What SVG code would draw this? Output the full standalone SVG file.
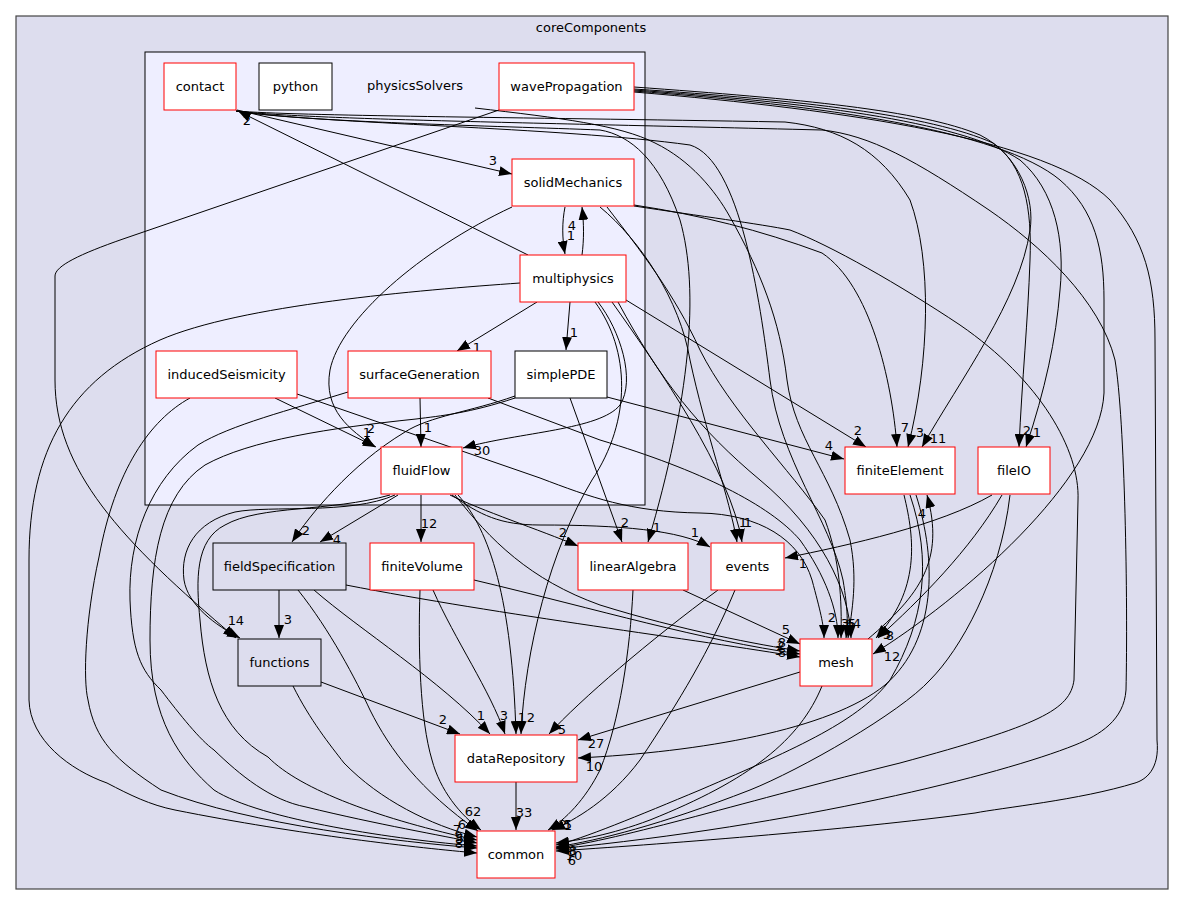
<svg xmlns="http://www.w3.org/2000/svg" width="1184" height="905" viewBox="0 0 1184 905">
<defs>
<style>
text{font-family:"DejaVu Sans","Liberation Sans",sans-serif;font-size:13px;fill:#000;text-anchor:middle}
.e{fill:none;stroke:#000;stroke-width:1;marker-end:url(#ah)}
.r{fill:#fff;stroke:#ff0000;stroke-width:1}
.b{fill:#fff;stroke:#000;stroke-width:1}
.g{fill:#ddddee;stroke:#000;stroke-width:1}
</style>
<marker id="ah" markerUnits="userSpaceOnUse" markerWidth="13" markerHeight="10" refX="13" refY="5" orient="auto">
<path d="M0,0 L13,5 L0,10 z" fill="#000"/>
</marker>
</defs>
<rect width="1184" height="905" fill="#fff"/>
<g id="cluster_coreComponents">
<rect x="16" y="16" width="1152" height="873" fill="#ddddee" stroke="#444" stroke-width="1.2"/>
<text x="591" y="32">coreComponents</text>
</g>
<g id="cluster_physicsSolvers">
<rect x="145" y="52" width="500" height="453" fill="#eeeeff" stroke="#000" stroke-width="1"/>
<text x="415" y="90">physicsSolvers</text>
</g>
<g id="connectors">
<path class="e" d="M237,110 L512,174"/>
<path class="e" d="M528,255 L238,111"/>
<path class="e" d="M565,207 C562,222 562,238 565,254"/>
<path class="e" d="M582,255 C584,240 584,224 582,207"/>
<path class="e" d="M537,302 L457,351"/>
<path class="e" d="M570,302 L566,350"/>
<path class="e" d="M598,302 C620,330 636,380 620,405 C600,430 520,432 463,448"/>
<path class="e" d="M520,283 C420,290 240,305 160,340 C70,380 29,450 29,560 L29,700 C30,740 70,770 107,783 C130,795 150,805 175,810 C300,835 420,848 477,853"/>
<path class="e" d="M626,300 L866,447"/>
<path class="e" d="M612,302 C660,370 730,470 742,542"/>
<path class="e" d="M618,302 C660,380 700,430 760,480 C820,530 850,590 851,638"/>
<path class="e" d="M595,302 C630,350 632,420 592,480 C550,550 525,650 521,734"/>
<path class="e" d="M512,207 C420,250 340,320 330,370 C323,410 350,430 375,447"/>
<path class="e" d="M600,207 C640,240 680,300 690,360 C705,430 730,500 737,542"/>
<path class="e" d="M607,207 C640,250 674,293 700,350 C730,410 790,470 825,520 C840,560 842,600 841,638"/>
<path class="e" d="M634,205 C700,215 760,230 822,253 C870,285 892,380 897,447"/>
<path class="e" d="M634,206 C700,216 760,224 790,230 C830,245 900,285 960,325 C1040,380 1080,450 1078,500 L1074,680 C1070,710 1040,725 900,763 C750,800 620,840 556,848"/>
<path class="e" d="M236,111 C300,116 500,117 785,122 C840,128 880,150 910,200 C932,260 930,360 908,447"/>
<path class="e" d="M236,111 C300,119 500,122 822,130 C870,135 915,160 989,210 C1040,245 1100,300 1115,360 C1125,420 1128,600 1126,690 C1124,720 1100,735 1075,745 C1000,775 800,825 556,849"/>
<path class="e" d="M236,111 C300,122 500,126 600,130 C630,135 660,160 680,220 C700,290 690,400 648,542"/>
<path class="e" d="M236,111 C320,124 560,127 690,145 C740,160 760,300 770,380 C780,460 830,520 843,580 C848,610 848,625 846,638"/>
<path class="e" d="M475,108 C560,118 620,125 655,143 C690,160 715,190 730,217 C760,270 780,320 787,380 C795,440 830,470 850,540 C858,580 852,610 848,638"/>
<path class="e" d="M499,110 L123,239 C80,254 55,266 55,276 L55,380 C55,470 120,540 236,638"/>
<path class="e" d="M634,87 C800,99 920,110 980,135 C1020,155 1035,200 1030,230 C1020,300 960,380 922,447"/>
<path class="e" d="M634,89 C800,100 930,115 993,143 C1025,165 1032,210 1030,260 C1028,320 1022,380 1019,447"/>
<path class="e" d="M634,90 C800,102 960,120 1020,160 C1055,190 1065,240 1060,290 C1056,340 1045,390 1026,447"/>
<path class="e" d="M634,91 C820,105 1000,130 1060,180 C1095,210 1104,250 1104,300 L1104,393 C1100,480 960,600 873,654"/>
<path class="e" d="M634,92 C850,110 1050,140 1110,200 C1145,240 1155,280 1155,340 L1157,740 C1160,770 1145,780 1135,783 C1080,800 1000,808 975,813 C850,830 650,845 556,851"/>
<path class="e" d="M607,397 L844,459"/>
<path class="e" d="M570,398 L622,542"/>
<path class="e" d="M515,396 C470,412 430,416 405,432 C350,465 310,515 292,542"/>
<path class="e" d="M515,398 C470,413 440,416 416,419 C330,428 250,440 205,465 C160,495 150,560 150,640 C150,720 180,760 214,790 C260,820 400,840 477,846"/>
<path class="e" d="M275,398 L376,447"/>
<path class="e" d="M297,394 L540,478 C590,497 630,512 700,513 C760,514 800,540 812,580 C820,610 824,625 824,638"/>
<path class="e" d="M190,398 C150,420 115,470 99,557 C85,620 83,680 88,700 C95,740 115,760 161,790 C250,825 400,842 477,848"/>
<path class="e" d="M420,398 L421,447"/>
<path class="e" d="M488,398 L600,440 C700,470 770,505 800,540 C825,575 838,610 838,638"/>
<path class="e" d="M348,392 C290,410 230,425 198,445 C150,480 128,540 130,600 C132,650 140,670 161,690 C180,715 200,740 214,750 C240,775 270,800 306,807 C380,825 440,835 477,843"/>
<path class="e" d="M398,495 L320,542"/>
<path class="e" d="M421,495 L421,542"/>
<path class="e" d="M450,495 C480,510 540,530 578,546"/>
<path class="e" d="M452,495 C480,515 500,525 540,525 C620,525 680,530 710,547"/>
<path class="e" d="M455,495 C490,540 530,580 600,605 C680,630 760,645 800,651"/>
<path class="e" d="M458,495 C490,530 512,600 516,734"/>
<path class="e" d="M395,495 C350,515 270,505 235,512 C195,522 180,550 184,580 C188,605 215,625 240,638"/>
<path class="e" d="M390,495 C330,512 260,505 225,525 C195,540 196,580 200,620 C205,680 220,730 268,757 C300,790 383,820 477,840"/>
<path class="e" d="M279,590 L279,638"/>
<path class="e" d="M314,590 C360,630 440,680 490,734"/>
<path class="e" d="M298,590 C330,630 356,680 370,710 C390,750 420,790 478,831"/>
<path class="e" d="M346,585 C500,615 700,640 800,657"/>
<path class="e" d="M433,590 C455,640 490,690 505,734"/>
<path class="e" d="M420,590 C418,650 420,720 432,760 C440,790 460,815 481,830"/>
<path class="e" d="M474,580 C600,610 700,640 800,654"/>
<path class="e" d="M321,682 L460,734"/>
<path class="e" d="M293,686 C310,720 330,745 344,763 C380,800 430,825 477,837"/>
<path class="e" d="M683,590 L800,644"/>
<path class="e" d="M633,590 C630,650 620,720 600,770 C585,800 565,820 548,830"/>
<path class="e" d="M718,590 C650,640 580,700 549,734"/>
<path class="e" d="M735,590 C710,650 680,700 640,760 C610,800 575,820 552,830"/>
<path class="e" d="M800,672 L578,740"/>
<path class="e" d="M822,686 C800,740 750,780 650,820 C610,835 580,840 556,843"/>
<path class="e" d="M868,639 C920,595 945,560 927,495"/>
<path class="e" d="M904,495 C915,540 920,590 876,638"/>
<path class="e" d="M916,495 C937,560 937,640 885,685 C830,730 700,752 578,758"/>
<path class="e" d="M910,495 C932,560 925,620 890,680 C860,720 800,747 700,790 C640,815 580,840 556,845"/>
<path class="e" d="M992,495 C940,525 850,545 785,558"/>
<path class="e" d="M1002,495 C970,550 920,600 878,638"/>
<path class="e" d="M1010,495 C1000,580 960,650 930,680 C900,713 800,770 750,790 C660,825 600,840 556,847"/>
<path class="e" d="M516,782 L516,830"/>
</g>
<g id="edge_labels">
<text x="493" y="165">3</text>
<text x="247" y="125">2</text>
<text x="572" y="230">4</text>
<text x="571" y="240">1</text>
<text x="477" y="352">1</text>
<text x="574" y="337">1</text>
<text x="482" y="455">30</text>
<text x="371" y="433">2</text>
<text x="367" y="437">1</text>
<text x="428" y="432">1</text>
<text x="858" y="435">2</text>
<text x="905" y="432">7</text>
<text x="920" y="437">3</text>
<text x="938" y="443">11</text>
<text x="829" y="450">4</text>
<text x="1027" y="435">2</text>
<text x="1037" y="437">1</text>
<text x="563" y="537">2</text>
<text x="625" y="527">2</text>
<text x="657" y="532">1</text>
<text x="695" y="537">1</text>
<text x="743" y="527">1</text>
<text x="748" y="527">1</text>
<text x="803" y="568">1</text>
<text x="306" y="535">2</text>
<text x="337" y="544">4</text>
<text x="429" y="528">12</text>
<text x="232" y="625">1</text>
<text x="240" y="625">4</text>
<text x="288" y="624">3</text>
<text x="786" y="634">5</text>
<text x="832" y="622">2</text>
<text x="845" y="628">3</text>
<text x="850" y="628">6</text>
<text x="852" y="628">5</text>
<text x="857" y="628">4</text>
<text x="887" y="639">5</text>
<text x="890" y="640">8</text>
<text x="892" y="661">12</text>
<text x="782" y="647">8</text>
<text x="781" y="650">2</text>
<text x="779" y="655">3</text>
<text x="782" y="657">8</text>
<text x="922" y="518">4</text>
<text x="443" y="724">2</text>
<text x="481" y="720">1</text>
<text x="504" y="720">3</text>
<text x="522" y="722">1</text>
<text x="531" y="722">2</text>
<text x="562" y="734">5</text>
<text x="596" y="748">27</text>
<text x="594" y="771">10</text>
<text x="473" y="816">62</text>
<text x="524" y="817">33</text>
<text x="563" y="829">2</text>
<text x="568" y="829">5</text>
<text x="568" y="830">1</text>
<text x="462" y="829">6</text>
<text x="457" y="834">7</text>
<text x="459" y="841">9</text>
<text x="460" y="843">5</text>
<text x="459" y="848">8</text>
<text x="573" y="855">8</text>
<text x="572" y="856">3</text>
<text x="574" y="860">10</text>
<text x="572" y="865">6</text>
</g>
<g id="node_contact"><rect class="r" x="164" y="63" width="72" height="47"/><text x="200" y="91">contact</text></g>
<g id="node_python"><rect class="b" x="259" y="63" width="73" height="47"/><text x="295.5" y="91">python</text></g>
<g id="node_wavePropagation"><rect class="r" x="499" y="63" width="135" height="47"/><text x="566.5" y="91">wavePropagation</text></g>
<g id="node_solidMechanics"><rect class="r" x="512" y="159" width="122" height="47"/><text x="573" y="187">solidMechanics</text></g>
<g id="node_multiphysics"><rect class="r" x="520" y="255" width="106" height="47"/><text x="573" y="283">multiphysics</text></g>
<g id="node_inducedSeismicity"><rect class="r" x="156" y="351" width="141" height="47"/><text x="226.5" y="379">inducedSeismicity</text></g>
<g id="node_surfaceGeneration"><rect class="r" x="348" y="351" width="143" height="47"/><text x="419.5" y="379">surfaceGeneration</text></g>
<g id="node_simplePDE"><rect class="b" x="515" y="351" width="92" height="47"/><text x="561" y="379">simplePDE</text></g>
<g id="node_fluidFlow"><rect class="r" x="381" y="447" width="81" height="47"/><text x="421.5" y="475">fluidFlow</text></g>
<g id="node_finiteElement"><rect class="r" x="845" y="447" width="110" height="47"/><text x="900" y="475">finiteElement</text></g>
<g id="node_fileIO"><rect class="r" x="978" y="447" width="72" height="47"/><text x="1014" y="475">fileIO</text></g>
<g id="node_fieldSpecification"><rect class="g" x="213" y="543" width="133" height="47"/><text x="279.5" y="571">fieldSpecification</text></g>
<g id="node_finiteVolume"><rect class="r" x="370" y="543" width="104" height="47"/><text x="422" y="571">finiteVolume</text></g>
<g id="node_linearAlgebra"><rect class="r" x="578" y="543" width="110" height="47"/><text x="633" y="571">linearAlgebra</text></g>
<g id="node_events"><rect class="r" x="711" y="543" width="73" height="47"/><text x="747.5" y="571">events</text></g>
<g id="node_functions"><rect class="g" x="238" y="639" width="83" height="47"/><text x="279.5" y="667">functions</text></g>
<g id="node_mesh"><rect class="r" x="800" y="639" width="72" height="47"/><text x="836" y="667">mesh</text></g>
<g id="node_dataRepository"><rect class="r" x="455" y="735" width="122" height="47"/><text x="516" y="763">dataRepository</text></g>
<g id="node_common"><rect class="r" x="477" y="831" width="78" height="47"/><text x="516" y="859">common</text></g>
</svg>
